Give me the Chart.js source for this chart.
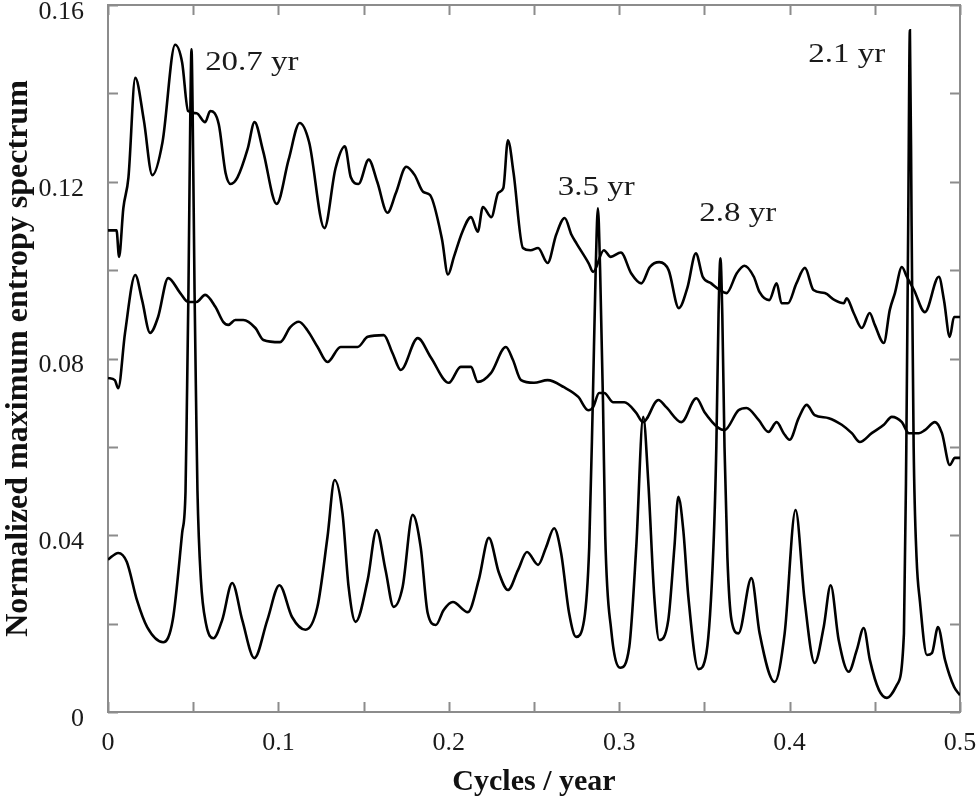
<!DOCTYPE html>
<html>
<head>
<meta charset="utf-8">
<script src="https://cdn.jsdelivr.net/npm/chart.js@4/dist/chart.umd.min.js"></script>
<style>
  html, body { margin: 0; padding: 0; background: #fff; }
  canvas { display: block; }
</style>
</head>
<body>
<canvas id="myChart" width="980" height="806"></canvas>
<script>
// spectrum data (cycles/year -> normalized MEM spectrum)
var freqTop = [0,0.005,0.0065,0.009,0.012,0.016,0.021,0.026,0.032,0.0394,0.0435,0.047,0.052,0.057,0.060,0.065,0.069,0.072,0.076,0.082,0.086,0.091,0.099,0.106,0.1125,0.118,0.127,0.1335,0.139,0.1425,0.147,0.153,0.158,0.164,0.169,0.175,0.18,0.185,0.189,0.196,0.1995,0.203,0.208,0.213,0.217,0.22,0.225,0.229,0.232,0.2347,0.238,0.2435,0.248,0.2524,0.258,0.263,0.268,0.272,0.275,0.282,0.2847,0.291,0.295,0.301,0.307,0.313,0.318,0.3235,0.329,0.335,0.34,0.345,0.349,0.354,0.359,0.363,0.369,0.3735,0.379,0.3824,0.388,0.3924,0.3953,0.399,0.404,0.409,0.414,0.4206,0.4265,0.4318,0.4335,0.4376,0.4424,0.447,0.45,0.4553,0.4588,0.4618,0.4659,0.4688,0.473,0.4794,0.4876,0.4906,0.494,0.4965,0.5];
var specTop = [0.109,0.109,0.103,0.114,0.121,0.1435,0.134,0.1215,0.129,0.151,0.147,0.136,0.1355,0.1335,0.136,0.133,0.122,0.1195,0.121,0.1275,0.1335,0.127,0.115,0.125,0.1333,0.129,0.1095,0.123,0.128,0.121,0.1195,0.125,0.120,0.113,0.1175,0.1234,0.1215,0.1177,0.117,0.107,0.099,0.103,0.1087,0.112,0.1087,0.1143,0.112,0.1175,0.1186,0.1294,0.122,0.105,0.1045,0.105,0.1016,0.108,0.1118,0.108,0.106,0.1016,0.0996,0.1045,0.103,0.104,0.0993,0.097,0.1007,0.1018,0.100,0.0914,0.096,0.1038,0.0985,0.097,0.0955,0.0948,0.0993,0.101,0.0985,0.095,0.0932,0.097,0.0925,0.0925,0.097,0.1005,0.0955,0.0948,0.0932,0.0925,0.0936,0.0903,0.0869,0.0903,0.0876,0.0835,0.091,0.0948,0.1007,0.0985,0.0955,0.0905,0.0985,0.0932,0.0849,0.0894,0.0894];

var freqMid = [0,0.004,0.006,0.01,0.016,0.02,0.0247,0.0294,0.0353,0.0424,0.047,0.052,0.057,0.063,0.0676,0.0706,0.0747,0.0794,0.0865,0.0912,0.101,0.107,0.112,0.117,0.123,0.1288,0.1365,0.1465,0.1524,0.1618,0.167,0.1718,0.1818,0.1894,0.2,0.207,0.213,0.217,0.2247,0.2335,0.2376,0.2424,0.25,0.258,0.2676,0.276,0.2818,0.2847,0.2882,0.2912,0.2965,0.303,0.31,0.314,0.323,0.3276,0.3365,0.3453,0.35,0.3582,0.3618,0.37,0.3747,0.3818,0.3876,0.3924,0.3965,0.4,0.4053,0.41,0.4147,0.423,0.4306,0.4365,0.4412,0.4482,0.4553,0.46,0.4659,0.47,0.4759,0.4794,0.4853,0.4894,0.494,0.497,0.5];
var specMid = [0.0756,0.0751,0.0733,0.0858,0.0989,0.0932,0.0858,0.0894,0.0982,0.0948,0.0928,0.0928,0.0944,0.0917,0.0883,0.0876,0.0887,0.0887,0.0869,0.0842,0.0837,0.0871,0.0883,0.0864,0.0826,0.0792,0.0826,0.0826,0.0849,0.0853,0.0812,0.0774,0.0846,0.0803,0.0745,0.0781,0.0781,0.0747,0.0767,0.0826,0.0797,0.0751,0.0745,0.0751,0.0735,0.0713,0.0683,0.069,0.0722,0.0722,0.0701,0.0701,0.0677,0.0656,0.0706,0.069,0.0656,0.071,0.0679,0.0643,0.0638,0.0683,0.0688,0.0661,0.0634,0.0656,0.0631,0.0616,0.0665,0.0695,0.0672,0.0665,0.065,0.0631,0.0611,0.0631,0.065,0.0668,0.0656,0.0631,0.0631,0.0638,0.0656,0.0631,0.0559,0.0575,0.0575];

var freqLow = [0,0.006,0.011,0.017,0.023,0.0324,0.038,0.0435,0.0455,0.0463,0.0472,0.0483,0.049,0.0497,0.0508,0.0517,0.0525,0.0545,0.0575,0.0618,0.067,0.0729,0.0788,0.0859,0.0935,0.1006,0.108,0.1159,0.1229,0.1288,0.133,0.1376,0.1412,0.1453,0.1524,0.1576,0.1629,0.1676,0.1729,0.1788,0.1835,0.1876,0.1924,0.197,0.2024,0.2112,0.2176,0.2235,0.2294,0.2347,0.2406,0.2459,0.2524,0.2571,0.2618,0.2659,0.2706,0.2747,0.2794,0.2824,0.2845,0.2862,0.2875,0.2888,0.2905,0.2918,0.2953,0.3006,0.3059,0.31,0.3141,0.317,0.3206,0.3235,0.3288,0.3324,0.3347,0.3376,0.3406,0.3465,0.3512,0.3553,0.357,0.3583,0.3594,0.3605,0.3618,0.3635,0.3659,0.37,0.3776,0.3824,0.3912,0.3971,0.4035,0.4088,0.4147,0.42,0.4241,0.4288,0.4347,0.4394,0.4435,0.4471,0.4524,0.4571,0.4629,0.4671,0.4685,0.4696,0.4706,0.4716,0.4728,0.4745,0.4765,0.4806,0.4835,0.4871,0.4912,0.4965,0.5];
var specLow = [0.0345,0.036,0.034,0.0253,0.0192,0.0158,0.0208,0.0405,0.05,0.07,0.095,0.135,0.15,0.135,0.095,0.07,0.05,0.03,0.02,0.0167,0.0208,0.0292,0.0208,0.0122,0.0208,0.0287,0.0215,0.0186,0.0238,0.0396,0.0525,0.045,0.0283,0.0204,0.0299,0.0412,0.0321,0.0238,0.0283,0.0446,0.0373,0.0224,0.0197,0.0231,0.0249,0.0226,0.0299,0.0394,0.0315,0.0276,0.0321,0.0362,0.0333,0.0373,0.0416,0.036,0.0224,0.017,0.0208,0.0373,0.07,0.1,0.114,0.1,0.07,0.04,0.0186,0.01,0.0147,0.0373,0.0668,0.0525,0.026,0.0163,0.0208,0.0373,0.0487,0.0412,0.026,0.0097,0.0134,0.0373,0.06,0.09,0.1027,0.09,0.06,0.035,0.0208,0.0178,0.0303,0.0178,0.0068,0.0178,0.0457,0.0253,0.0111,0.0192,0.0287,0.0163,0.0091,0.014,0.019,0.0118,0.005,0.0032,0.0061,0.0178,0.06,0.11,0.1543,0.11,0.06,0.035,0.025,0.0129,0.0133,0.0192,0.0118,0.0057,0.0038];

// period labels next to the big peaks
var peakText = ['20.7 yr', '3.5 yr', '2.8 yr', '2.1 yr'];
var peakTextX = [0.057, 0.264, 0.347, 0.411];
var peakTextY = [0.147, 0.1186, 0.1127, 0.1487];

var xTickLabels = ['0', '0.1', '0.2', '0.3', '0.4', '0.5'];
var yTickLabels = ['0', '0.04', '0.08', '0.12', '0.16'];

function pts(xs, ys) {
    var out = [];
    for (var i = 0; i < xs.length; i++) {
        out.push({x: xs[i], y: ys[i]});
    }
    return out;
}

var serif = '"Liberation Serif", "Times New Roman", serif';

// frame + inward tick marks on all four sides
var framePlugin = {
    id: 'frame',
    beforeDatasetsDraw: function(chart) {
        var ctx = chart.ctx, a = chart.chartArea;
        var xs = chart.scales.x, ys = chart.scales.y;
        ctx.save();
        ctx.strokeStyle = '#8c8c8c';
        ctx.lineWidth = 2;
        ctx.strokeRect(a.left, a.top, a.right - a.left, a.bottom - a.top);
        ctx.beginPath();
        xs.ticks.forEach(function(t) {
            var px = Math.round(xs.getPixelForValue(t.value)) + 0.5;
            ctx.moveTo(px, a.bottom); ctx.lineTo(px, a.bottom - 10);
            ctx.moveTo(px, a.top); ctx.lineTo(px, a.top + 10);
        });
        ys.ticks.forEach(function(t) {
            var py = Math.round(ys.getPixelForValue(t.value)) + 0.5;
            ctx.moveTo(a.left, py); ctx.lineTo(a.left + 10, py);
            ctx.moveTo(a.right, py); ctx.lineTo(a.right - 10, py);
        });
        ctx.stroke();
        ctx.restore();
    },
    afterDatasetsDraw: function(chart) {
        var ctx = chart.ctx;
        var xs = chart.scales.x, ys = chart.scales.y;
        ctx.save();
        ctx.fillStyle = '#1a1a1a';
        ctx.font = '27px ' + serif;
        ctx.textBaseline = 'middle';
        ctx.textAlign = 'left';
        for (var i = 0; i < peakText.length; i++) {
            ctx.save();
            ctx.translate(xs.getPixelForValue(peakTextX[i]), ys.getPixelForValue(peakTextY[i]));
            ctx.scale(1.22, 1);
            ctx.fillText(peakText[i], 0, 0);
            ctx.restore();
        }
        ctx.restore();
    }
};

function chartdrawer(ctx) {
    var lineStyle = {
        borderColor: '#000',
        borderWidth: 2.6,
        pointRadius: 0,
        fill: false,
        cubicInterpolationMode: 'monotone'
    };
    var myChart = new Chart(ctx, {
        type: 'line',
        data: {
            datasets: [
                Object.assign({label: 'upper', data: pts(freqTop, specTop)}, lineStyle),
                Object.assign({label: 'middle', data: pts(freqMid, specMid)}, lineStyle),
                Object.assign({label: 'lower', data: pts(freqLow, specLow)}, lineStyle)
            ]
        },
        options: {
            responsive: false,
            animation: false,
            layout: { padding: { top: 5, right: 20, left: 0, bottom: 0 } },
            plugins: {
                legend: { display: false },
                tooltip: { enabled: false }
            },
            scales: {
                x: {
                    type: 'linear',
                    min: 0,
                    max: 0.5,
                    grid: { display: false },
                    border: { display: false },
                    ticks: {
                        stepSize: 0.05,
                        autoSkip: false,
                        maxRotation: 0,
                        padding: 8,
                        color: '#1a1a1a',
                        font: { family: serif, size: 26 },
                        callback: function(v, i) { return i % 2 === 0 ? xTickLabels[i / 2] : ''; }
                    },
                    title: {
                        display: true,
                        text: 'Cycles / year',
                        color: '#111',
                        font: { family: serif, size: 30, weight: 'bold' },
                        padding: { top: 0, bottom: 6 }
                    },
                    afterFit: function(scale) {
                        scale.height = 94;
                        scale.paddingLeft = 0;
                        scale.paddingRight = 0;
                    }
                },
                y: {
                    min: 0,
                    max: 0.16,
                    grid: { display: false },
                    border: { display: false },
                    ticks: {
                        stepSize: 0.02,
                        autoSkip: false,
                        padding: 16,
                        labelOffset: 7,
                        color: '#1a1a1a',
                        font: { family: serif, size: 26 },
                        callback: function(v, i) { return i % 2 === 0 ? yTickLabels[i / 2] : ''; }
                    },
                    title: {
                        display: true,
                        text: 'Normalized maximum entropy spectrum',
                        color: '#111',
                        font: { family: serif, size: 32, weight: 'bold' },
                        padding: { top: 0, bottom: 0 }
                    },
                    afterFit: function(scale) {
                        scale.width = 108;
                        scale.paddingTop = 0;
                        scale.paddingBottom = 0;
                    }
                }
            }
        },
        plugins: [framePlugin]
    });
}

var ctx = document.getElementById('myChart').getContext('2d');
chartdrawer(ctx);
</script>
</body>
</html>
